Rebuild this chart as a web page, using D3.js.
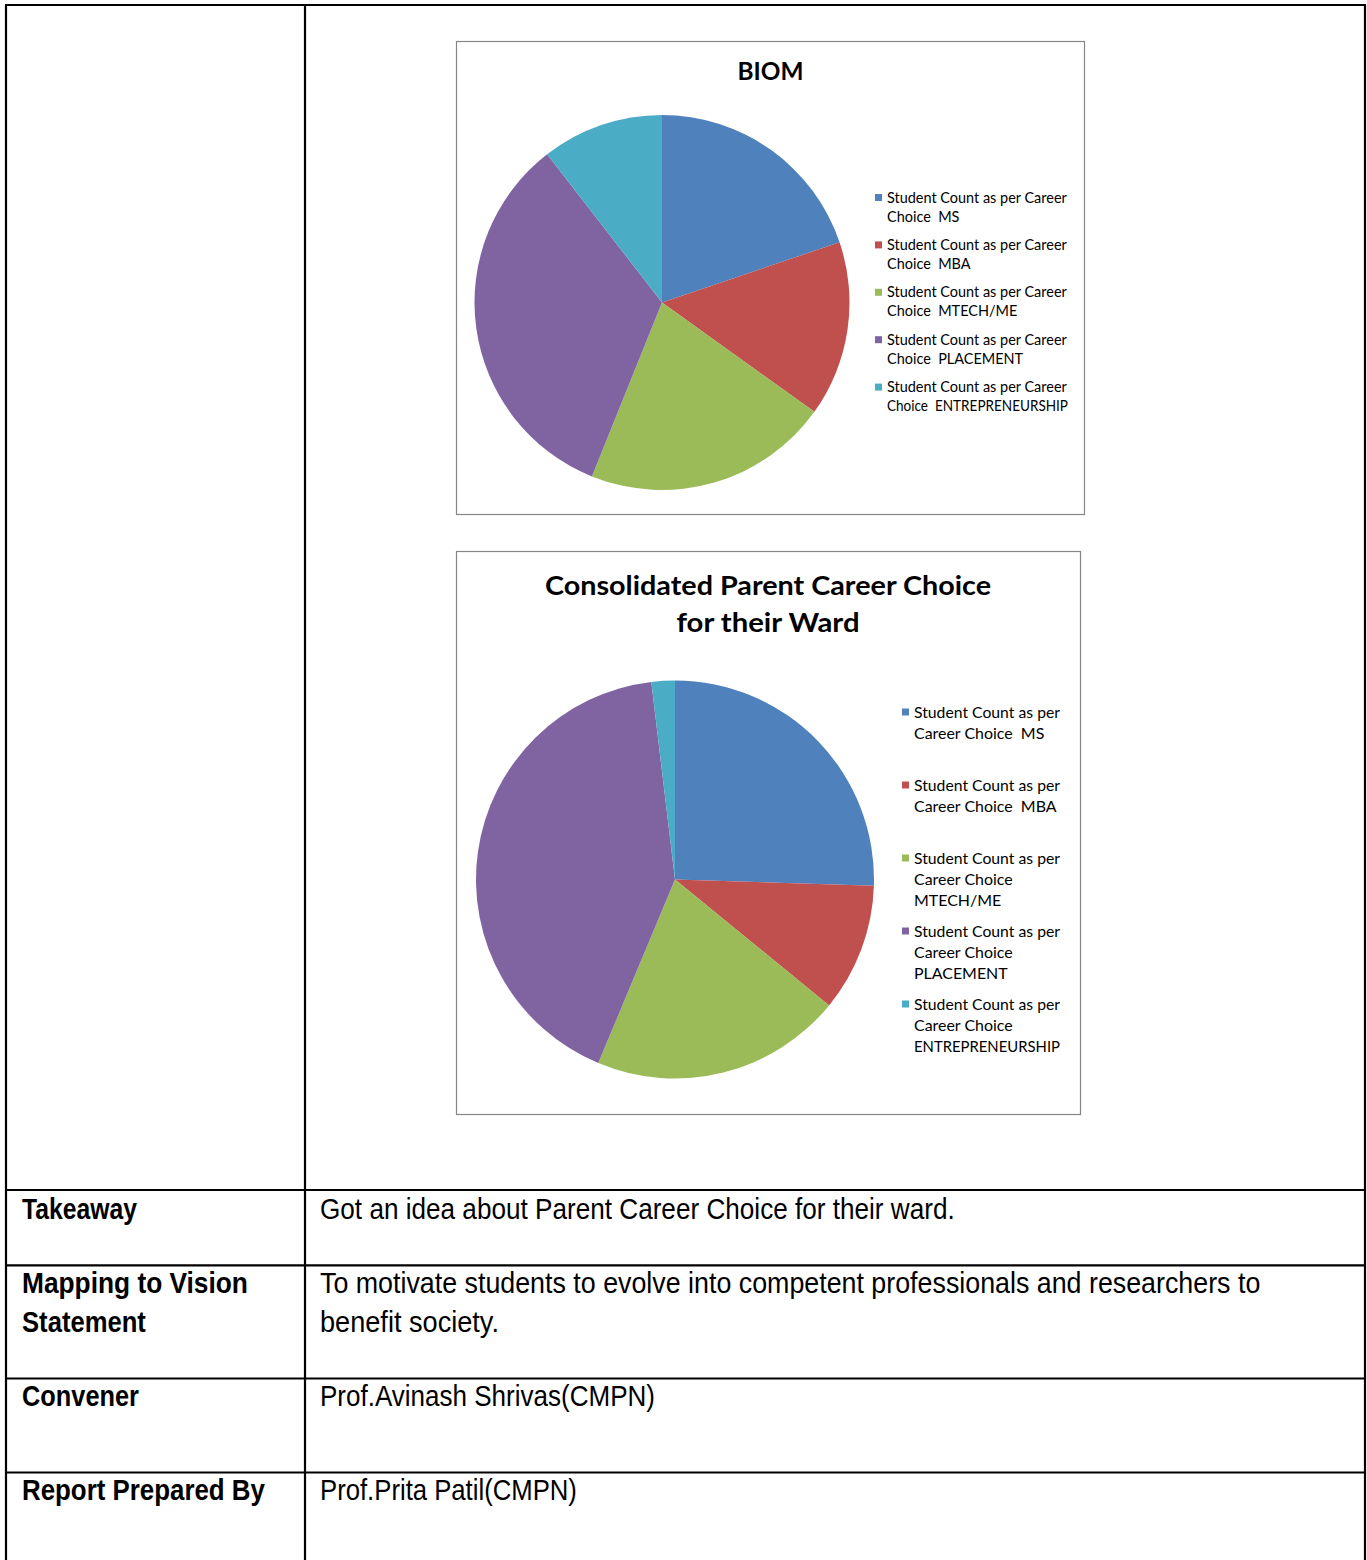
<!DOCTYPE html>
<html>
<head>
<meta charset="utf-8">
<script src="https://cdn.jsdelivr.net/npm/d3@7"></script>
<style>
  html, body { margin: 0; padding: 0; background: #fff; }
  svg { display: block; }
  text { white-space: pre; }
</style>
</head>
<body>
<svg id="page" width="1367" height="1560"></svg>
<script>
// ---------- DATA ----------
const categories = ["MS", "MBA", "MTECH/ME", "PLACEMENT", "ENTREPRENEURSHIP"];
const colors = ["#4F81BD", "#C0504D", "#9BBB59", "#8064A2", "#4BACC6"];
const biomValues = [19.8, 15.1, 21.2, 33.4, 10.5];
const consolidatedValues = [25.5, 10.4, 20.4, 41.8, 1.9];
const chart1Title = ["BIOM"];
const chart2Title = ["Consolidated Parent Career Choice", "for their Ward"];
const chart1Legend = [
  ["Student Count as per Career", "Choice  MS"],
  ["Student Count as per Career", "Choice  MBA"],
  ["Student Count as per Career", "Choice  MTECH/ME"],
  ["Student Count as per Career", "Choice  PLACEMENT"],
  ["Student Count as per Career", "Choice  ENTREPRENEURSHIP"]
];
const chart2Legend = [
  ["Student Count as per", "Career Choice  MS"],
  ["Student Count as per", "Career Choice  MBA"],
  ["Student Count as per", "Career Choice", "MTECH/ME"],
  ["Student Count as per", "Career Choice", "PLACEMENT"],
  ["Student Count as per", "Career Choice", "ENTREPRENEURSHIP"]
];
const rowLabels = [["Takeaway"], ["Mapping to Vision", "Statement"], ["Convener"], ["Report Prepared By"]];
const rowTexts = [
  ["Got an idea about Parent Career Choice for their ward."],
  ["To motivate students to evolve into competent professionals and researchers to", "benefit society."],
  ["Prof.Avinash Shrivas(CMPN)"],
  ["Prof.Prita Patil(CMPN)"]
];

// ---------- LAYOUT ----------
const svg = d3.select("#page");
const chartFont = "Lato, Carlito, Calibri, 'Open Sans', sans-serif";
const tableFont = "'Liberation Sans Narrow', 'Arial Narrow', 'Liberation Sans', Arial, sans-serif";

// table
const T = { left: 6, right: 1365, top: 5, col: 305, bottom: 1560, rows: [1190, 1265.3, 1378.5, 1472.5] };
const tbl = svg.append("g").attr("stroke", "#000").attr("stroke-width", 2.2);
tbl.append("line").attr("x1", T.left - 1).attr("x2", T.right + 1).attr("y1", T.top).attr("y2", T.top);
tbl.append("line").attr("x1", T.left).attr("x2", T.left).attr("y1", T.top).attr("y2", T.bottom);
tbl.append("line").attr("x1", T.right).attr("x2", T.right).attr("y1", T.top).attr("y2", T.bottom);
tbl.append("line").attr("x1", T.col).attr("x2", T.col).attr("y1", T.top).attr("y2", T.bottom);
T.rows.forEach(y => tbl.append("line").attr("x1", T.left).attr("x2", T.right).attr("y1", y).attr("y2", y));

// table text: condensed by a horizontal scale so each line fills its width as in the reference
const labelBaselines = [[1219], [1293, 1332], [1406], [1500]];
const labelWidths = [[115], [226, 124], [117], [243]];
const textWidths = [[635], [941, 179], [335], [257]];
function fitText(x, y, s, width, bold) {
  const t = svg.append("text").attr("x", 0).attr("y", 0)
    .attr("font-family", tableFont).attr("font-size", 30)
    .attr("font-weight", bold ? "bold" : "normal").text(s);
  const sx = width / t.node().getComputedTextLength();
  t.attr("transform", `translate(${x},${y}) scale(${sx},1)`);
}
rowLabels.forEach((lines, i) => lines.forEach((s, j) => fitText(22, labelBaselines[i][j], s, labelWidths[i][j], true)));
rowTexts.forEach((lines, i) => lines.forEach((s, j) => fitText(320, labelBaselines[i][j], s, textWidths[i][j], false)));

// ---------- PIE CHARTS ----------
function drawPie(cfg) {
  const g = svg.append("g");
  g.append("rect").attr("x", cfg.box[0]).attr("y", cfg.box[1]).attr("width", cfg.box[2]).attr("height", cfg.box[3])
    .attr("fill", "#fff").attr("stroke", "#868686").attr("stroke-width", 1.2);

  cfg.title.forEach((s, i) => {
    g.append("text").attr("x", cfg.titleX).attr("y", cfg.titleY[i])
      .attr("text-anchor", "middle").attr("font-family", chartFont).attr("font-weight", "bold")
      .attr("font-size", cfg.titleSize).attr("textLength", cfg.titleWidths[i]).attr("lengthAdjust", "spacingAndGlyphs")
      .text(s);
  });

  const pie = d3.pie().sort(null).value(d => d)(cfg.values);
  const arc = d3.arc().innerRadius(0).outerRadius(cfg.r);
  const color = d3.scaleOrdinal().domain(categories).range(colors);
  g.append("g").attr("transform", `translate(${cfg.cx},${cfg.cy})`)
    .selectAll("path").data(pie).join("path")
    .attr("d", arc).attr("fill", (d, i) => color(categories[i]));

  const lg = g.append("g");
  const probe = lg.append("text").attr("font-family", chartFont).attr("font-size", 20).text(cfg.legend[0][0]);
  const fs = 20 * cfg.legendFirstWidth / probe.node().getComputedTextLength();
  probe.remove();
  cfg.legend.forEach((lines, i) => {
    const yc = cfg.legendY0 + i * cfg.legendStep;
    lg.append("rect").attr("x", cfg.legendX - 12).attr("y", yc - 3.5).attr("width", 7).attr("height", 7)
      .attr("fill", color(categories[i]));
    lines.forEach((s, j) => {
      const t = lg.append("text").attr("x", cfg.legendX).attr("y", yc + j * cfg.lineStep)
        .attr("dy", "0.35em").attr("font-family", chartFont).attr("font-size", fs)
        .attr("fill", "#000").text(s);
      const w = t.node().getComputedTextLength();
      if (w > cfg.legendMaxWidth) t.attr("textLength", cfg.legendMaxWidth).attr("lengthAdjust", "spacingAndGlyphs");
    });
  });
}

drawPie({
  box: [456.5, 41.5, 628, 473], values: biomValues, cx: 662, cy: 302.5, r: 187.5,
  title: chart1Title, titleX: 770.5, titleY: [80], titleSize: 25, titleWidths: [66],
  legend: chart1Legend, legendX: 887, legendY0: 197.5, legendStep: 47.4, lineStep: 19,
  legendFirstWidth: 180, legendMaxWidth: 181
});
drawPie({
  box: [456.5, 551.5, 624, 563], values: consolidatedValues, cx: 675, cy: 879.5, r: 199,
  title: chart2Title, titleX: 768, titleY: [595, 632], titleSize: 27, titleWidths: [446, 183],
  legend: chart2Legend, legendX: 914, legendY0: 712, legendStep: 73, lineStep: 21.3,
  legendFirstWidth: 148, legendMaxWidth: 146
});
</script>
</body>
</html>
